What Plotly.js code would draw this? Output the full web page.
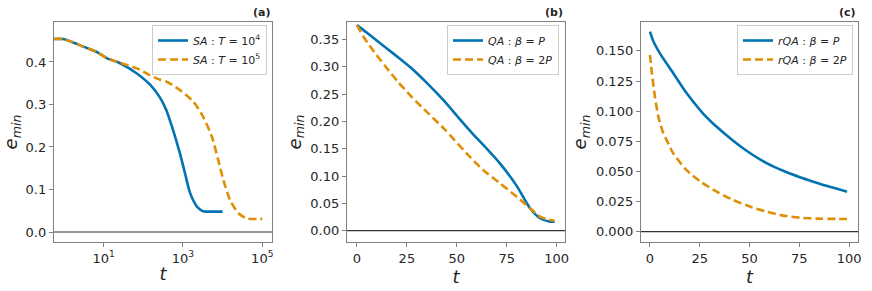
<!DOCTYPE html>
<html>
<head>
<meta charset="utf-8">
<script src="https://cdn.plot.ly/plotly-3.0.1.min.js"></script>
<style>html,body{margin:0;padding:0;background:#fff;}#chart{width:872px;height:291px;}</style>
</head>
<body>
<div id="chart"></div>
<script>
// ---- Panel (a): SA, log time axis ----
const tA1 = [0.56, 0.95, 1.6, 3.1, 6.6, 12, 26, 69, 151, 269, 380, 562, 832, 1122, 1514, 2239, 2700, 3236, 5012, 10000];
const eA1 = [0.454, 0.454, 0.447, 0.436, 0.424, 0.409, 0.397, 0.373, 0.346, 0.315, 0.287, 0.240, 0.186, 0.139, 0.092, 0.060, 0.053, 0.049, 0.048, 0.048];
const tA2 = [0.56, 0.95, 1.6, 3.1, 6.6, 12, 26, 69, 145, 269, 380, 832, 1820, 3236, 5370, 7762, 10471, 15488, 25119, 40738, 100000];
const eA2 = [0.454, 0.454, 0.447, 0.436, 0.424, 0.409, 0.398, 0.385, 0.369, 0.358, 0.354, 0.334, 0.307, 0.271, 0.224, 0.169, 0.122, 0.075, 0.044, 0.032, 0.031];
const namesA = ['<i>SA</i> : <i>T</i> = 10<sup>4</sup>', '<i>SA</i> : <i>T</i> = 10<sup>5</sup>'];
const xticksA = [10, 1000, 100000];
const xtickTextA = ['10<sup>1</sup>', '10<sup>3</sup>', '10<sup>5</sup>'];

// ---- Panel (b): QA ----
const tB1 = [0, 5, 10.5, 18.9, 27.3, 35.6, 44, 51.5, 58, 63.2, 71.6, 80, 86.7, 91.7, 96.7, 99];
const eB1 = [0.376, 0.362, 0.346, 0.322, 0.297, 0.268, 0.236, 0.204, 0.177, 0.157, 0.123, 0.082, 0.041, 0.0227, 0.0165, 0.0165];
const tB2 = [0, 3, 7.2, 13.9, 20.6, 27.3, 35.6, 44, 54.9, 63.2, 71.6, 80, 86.7, 91.7, 95, 99];
const eB2 = [0.376, 0.356, 0.334, 0.302, 0.272, 0.245, 0.215, 0.185, 0.1415, 0.111, 0.0867, 0.0622, 0.041, 0.0256, 0.021, 0.018];
const namesB = ['<i>QA</i> : <i>β</i> = <i>P</i>', '<i>QA</i> : <i>β</i> = 2<i>P</i>'];

// ---- Panel (c): rQA ----
const tC1 = [0, 1.7, 5, 11.7, 18.4, 26.7, 33.5, 41.8, 50, 58.6, 66.9, 75.3, 82, 88.7, 94, 99];
const eC1 = [0.166, 0.158, 0.148, 0.1315, 0.115, 0.098, 0.087, 0.0755, 0.0655, 0.0568, 0.0505, 0.0452, 0.0415, 0.038, 0.0355, 0.0332];
const tC2 = [0, 1, 2.5, 4.2, 6.7, 8.4, 11.7, 18.4, 25.9, 33.5, 41.8, 50.2, 58.6, 66.9, 75.3, 83.6, 99];
const eC2 = [0.1467, 0.131, 0.112, 0.0955, 0.0817, 0.076, 0.065, 0.051, 0.041, 0.0332, 0.0263, 0.0208, 0.0166, 0.0133, 0.0116, 0.0108, 0.0105];
const namesC = ['<i>rQA</i> : <i>β</i> = <i>P</i>', '<i>rQA</i> : <i>β</i> = 2<i>P</i>'];

const panelLabels = ['(a)', '(b)', '(c)'];

const BLUE = '#0173B2', ORANGE = '#DE8F05';
const W = 872, H = 291;
const px = (a, b) => [a / W, b / W];
const yDom = [1 - 242 / H, 1 - 22 / H];

function tr(x, y, name, i, xa, ya, leg) {
  return {
    x: x, y: y, name: name, type: 'scatter', mode: 'lines',
    xaxis: xa, yaxis: ya, legend: leg,
    line: i === 0 ? {color: BLUE, width: 2.6, shape: 'spline', smoothing: 0.7}
                  : {color: ORANGE, width: 2.6, dash: '8px,4px', shape: 'spline', smoothing: 0.7}
  };
}

const data = [
  tr(tA1, eA1, namesA[0], 0, 'x', 'y', 'legend'),
  tr(tA2, eA2, namesA[1], 1, 'x', 'y', 'legend'),
  tr(tB1, eB1, namesB[0], 0, 'x2', 'y2', 'legend2'),
  tr(tB2, eB2, namesB[1], 1, 'x2', 'y2', 'legend2'),
  tr(tC1, eC1, namesC[0], 0, 'x3', 'y3', 'legend3'),
  tr(tC2, eC2, namesC[1], 1, 'x3', 'y3', 'legend3')
];

const FONT = 'DejaVu Sans, sans-serif';
const axBase = {
  showline: true, mirror: true, linecolor: '#808080', linewidth: 1.2,
  ticks: 'outside', ticklen: 4, tickwidth: 1, tickcolor: '#808080',
  showgrid: false, zeroline: false,
  tickfont: {family: FONT, size: 13, color: '#262626'}
};
const xTitle = {text: '<i>t</i>', font: {family: FONT, size: 18, color: '#262626'}, standoff: 2};
const yTitle = {text: '<i>e</i><sub><i>min</i></sub>', font: {family: FONT, size: 18, color: '#262626'}, standoff: 4};

const layout = {
  width: W, height: H,
  margin: {l: 0, r: 0, t: 0, b: 0},
  paper_bgcolor: '#fff', plot_bgcolor: '#fff',
  font: {family: FONT, color: '#262626'},
  xaxis: Object.assign({}, axBase, {domain: px(54, 272), type: 'log', range: [-0.25, 5.245],
    tickvals: xticksA, ticktext: xtickTextA, title: xTitle, anchor: 'y'}),
  yaxis: Object.assign({}, axBase, {domain: yDom, range: [-0.0235, 0.494],
    tickvals: [0, 0.1, 0.2, 0.3, 0.4], tickformat: '.1f', title: yTitle, anchor: 'x'}),
  xaxis2: Object.assign({}, axBase, {domain: px(347, 565), range: [-5.0, 104.2],
    tickvals: [0, 25, 50, 75, 100], title: xTitle, anchor: 'y2'}),
  yaxis2: Object.assign({}, axBase, {domain: yDom, range: [-0.0207, 0.3817],
    tickvals: [0, 0.05, 0.1, 0.15, 0.2, 0.25, 0.3, 0.35], tickformat: '.2f', title: yTitle, anchor: 'x2'}),
  xaxis3: Object.assign({}, axBase, {domain: px(641, 858), range: [-4.5, 104.5],
    tickvals: [0, 25, 50, 75, 100], title: xTitle, anchor: 'y3'}),
  yaxis3: Object.assign({}, axBase, {domain: yDom, range: [-0.0086, 0.174],
    tickvals: [0, 0.025, 0.05, 0.075, 0.1, 0.125, 0.15], tickformat: '.3f', title: yTitle, anchor: 'x3'}),
  showlegend: true,
  shapes: ['x', 'x2', 'x3'].map((xa, i) => ({
    type: 'line', xref: xa + ' domain', x0: 0, x1: 1,
    yref: ['y', 'y2', 'y3'][i], y0: 0, y1: 0,
    line: {color: '#333333', width: 1.2}
  })),
  annotations: panelLabels.map((lab, i) => ({
    text: '<b>' + lab + '</b>', xref: ['x', 'x2', 'x3'][i] + ' domain', x: 1, xanchor: 'right',
    yref: 'paper', y: 1 - 13 / H, yanchor: 'middle', showarrow: false,
    font: {family: FONT, size: 11, color: '#262626'}
  }))
};

const legBase = {
  bgcolor: 'rgba(255,255,255,0.85)', bordercolor: '#cccccc', borderwidth: 1,
  font: {family: FONT, size: 11, color: '#262626'},
  xanchor: 'right', yanchor: 'top', y: 1 - 25 / H,
  itemwidth: 30, tracegroupgap: 0
};
layout.legend = Object.assign({}, legBase, {x: 267 / W});
layout.legend2 = Object.assign({}, legBase, {x: 559 / W});
layout.legend3 = Object.assign({}, legBase, {x: 853 / W});

Plotly.newPlot('chart', data, layout, {staticPlot: true, displayModeBar: false});
</script>
</body>
</html>
